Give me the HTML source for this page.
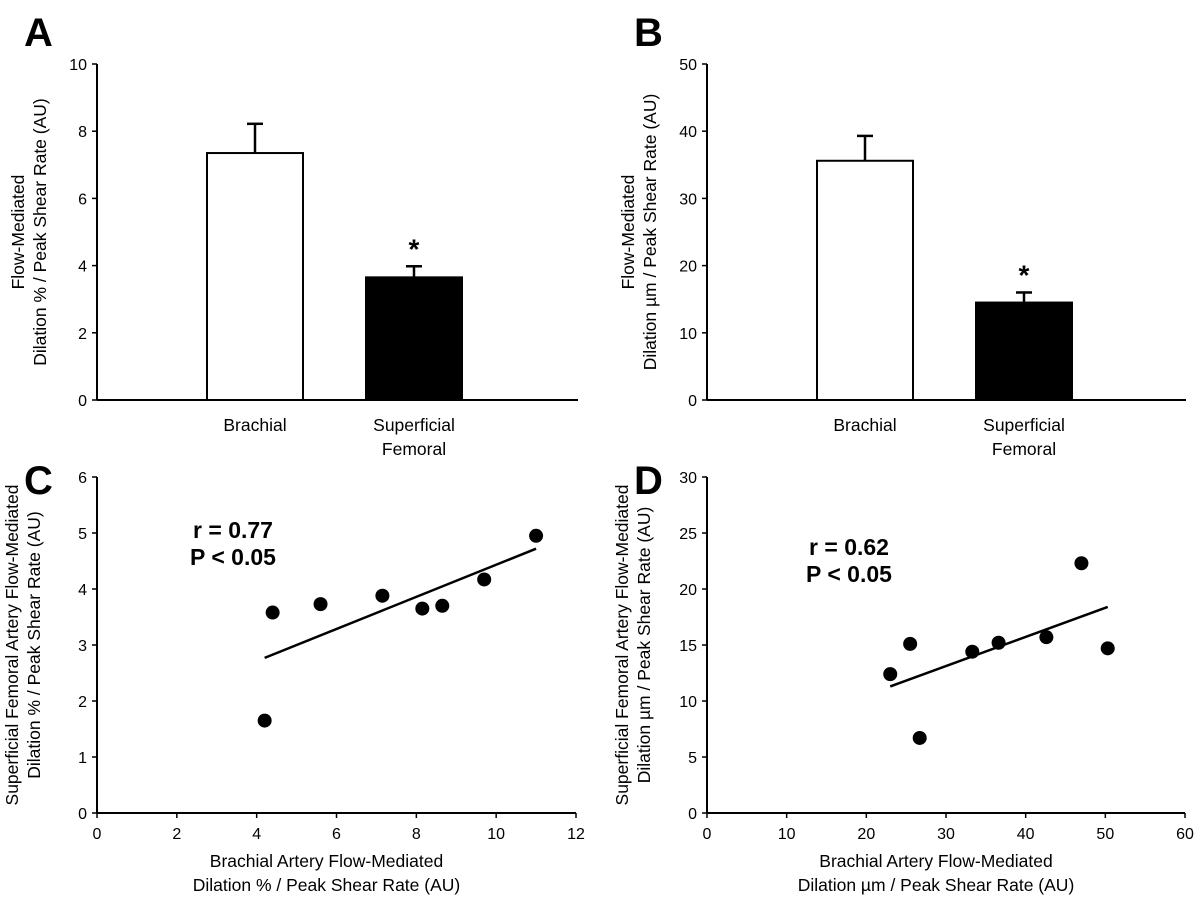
<!DOCTYPE html>
<html><head><meta charset="utf-8"><style>
html,body{margin:0;padding:0;background:#fff}
svg{display:block;font-family:"Liberation Sans",Arial,sans-serif}
</style></head><body>
<svg id="fig" width="1200" height="915" viewBox="0 0 1200 915" xmlns="http://www.w3.org/2000/svg"></svg>
<script>
// Panel A data
const barCatsA = ["Brachial", "Superficial|Femoral"];
const barValsA = [7.35, 3.65];
const barErrA = [0.87, 0.33];
const yTicksA = [0, 2, 4, 6, 8, 10];
// Panel B data
const barValsB = [35.6, 14.5];
const barErrB = [3.7, 1.5];
const yTicksB = [0, 10, 20, 30, 40, 50];
// Panel C data
const scatXC = [4.2, 4.4, 5.6, 7.15, 8.15, 8.65, 9.7, 11.0];
const scatYC = [1.65, 3.58, 3.73, 3.88, 3.65, 3.7, 4.17, 4.95];
const fitC = [[4.2, 2.77], [11.0, 4.72]];
const xTicksC = [0, 2, 4, 6, 8, 10, 12];
const yTicksC = [0, 1, 2, 3, 4, 5, 6];
// Panel D data
const scatXD = [23, 25.5, 26.7, 33.3, 36.6, 42.6, 47, 50.3];
const scatYD = [12.4, 15.1, 6.7, 14.4, 15.2, 15.7, 22.3, 14.7];
const fitD = [[23, 11.3], [50.3, 18.4]];
const xTicksD = [0, 10, 20, 30, 40, 50, 60];
const yTicksD = [0, 5, 10, 15, 20, 25, 30];

const NS = "http://www.w3.org/2000/svg";
const svg = document.getElementById("fig");
function mk(tag, attrs, parent, text) {
  const e = document.createElementNS(NS, tag);
  for (const k in attrs) e.setAttribute(k, attrs[k]);
  if (text !== undefined) e.textContent = text;
  (parent || svg).appendChild(e);
  return e;
}
function lin(d0, d1, r0, r1) { return v => r0 + (v - d0) * (r1 - r0) / (d1 - d0); }

function panelLetter(t, x, y) {
  const e = mk("text", {x: x, y: y, "font-size": 40, "font-weight": "bold"}, svg, t);
  
  
}
function yTitle(lines, cx, cy, name) {
  const g = mk("g", {});
  
  
  lines.forEach((l, i) => {
    mk("text", {x: 0, y: 0, "font-size": 17.5, "text-anchor": "middle",
      transform: `translate(${cx + i * 22},${cy}) rotate(-90)`}, g, l);
  });
}
function xTitle(lines, cx, y, name) {
  const g = mk("g", {});
  
  
  lines.forEach((l, i) => mk("text", {x: cx, y: y + i * 24, "font-size": 17.5, "text-anchor": "middle"}, g, l));
}
function yAxis(x, ys, ticks, name) {
  const g = mk("g", {});
  
  
  mk("line", {x1: x, y1: ys(ticks[ticks.length - 1]), x2: x, y2: ys(ticks[0]), stroke: "#000", "stroke-width": 2}, g);
  ticks.forEach(t => {
    mk("line", {x1: x - 5, y1: ys(t), x2: x, y2: ys(t), stroke: "#000", "stroke-width": 1.5}, g);
    mk("text", {x: x - 10, y: ys(t) + 6, "font-size": 16, "text-anchor": "end"}, g, t);
  });
}
function xAxis(y, xs, ticks, name) {
  const g = mk("g", {});
  
  
  mk("line", {x1: xs(ticks[0]), y1: y, x2: xs(ticks[ticks.length - 1]), y2: y, stroke: "#000", "stroke-width": 2}, g);
  ticks.forEach(t => {
    mk("line", {x1: xs(t), y1: y, x2: xs(t), y2: y + 5, stroke: "#000", "stroke-width": 1.5}, g);
    mk("text", {x: xs(t), y: y + 26, "font-size": 16, "text-anchor": "middle"}, g, t);
  });
}

function barPanel(letter, lx, axX, axEnd, barX, vals, errs, ticks, titleLines) {
  const ys = lin(ticks[0], ticks[ticks.length - 1], 400, 64);
  panelLetter(letter, lx, 46);
  yTitle(titleLines, axX - 73, 232, 'y-axis-title-' + letter.toLowerCase());
  yAxis(axX, ys, ticks, 'y-axis-' + letter.toLowerCase());
  const g = mk("g", {});
  
  
  vals.forEach((v, i) => {
    const x = barX[i], w = 96, cx = x + w / 2;
    const eb = mk("line", {x1: cx, y1: ys(v), x2: cx, y2: ys(v + errs[i]), stroke: "#000", "stroke-width": 2.5}, g);
    
    
    mk("line", {x1: cx - 8, y1: ys(v + errs[i]), x2: cx + 8, y2: ys(v + errs[i]), stroke: "#000", "stroke-width": 2.5}, g);
    const r = mk("rect", {x: x, y: ys(v), width: w, height: 400 - ys(v), fill: i === 0 ? "#fff" : "#000", stroke: "#000", "stroke-width": 2}, g);
    
    
    const lines = barCatsA[i].split("|");
    lines.forEach((l, j) => mk("text", {x: cx, y: 431 + j * 24, "font-size": 17.5, "text-anchor": "middle"}, g, l));
  });
  const star = mk("text", {x: barX[1] + 48, y: ys(vals[1] + errs[1]) - 8, "font-size": 28, "font-weight": "bold", "text-anchor": "middle"}, svg, "*");
  
  
  const xl = mk("line", {x1: axX, y1: 400, x2: axEnd, y2: 400, stroke: "#000", "stroke-width": 2});
  
  
}

barPanel("A", 24, 97, 578, [207, 366], barValsA, barErrA, yTicksA,
  ["Flow-Mediated", "Dilation % / Peak Shear Rate (AU)"]);
barPanel("B", 634, 707, 1186, [817, 976], barValsB, barErrB, yTicksB,
  ["Flow-Mediated", "Dilation µm / Peak Shear Rate (AU)"]);

function scatPanel(letter, lx, axX, axEnd, xsArr, ysArr, fit, xt, yt, rtxt, tx, ylines, xlines) {
  const xs = lin(xt[0], xt[xt.length - 1], axX, axEnd);
  const ys = lin(yt[0], yt[yt.length - 1], 813, 477);
  panelLetter(letter, lx, 494);
  yTitle(ylines, axX - 79, 645, 'y-axis-title-' + letter.toLowerCase());
  yAxis(axX, ys, yt, 'y-axis-' + letter.toLowerCase());
  xAxis(813, xs, xt, 'x-axis-' + letter.toLowerCase());
  xTitle(xlines, (axX + axEnd) / 2 - 10, 867, 'x-axis-title-' + letter.toLowerCase());
  const fl = mk("line", {x1: xs(fit[0][0]), y1: ys(fit[0][1]), x2: xs(fit[1][0]), y2: ys(fit[1][1]), stroke: "#000", "stroke-width": 2.5});
  
  
  const g = mk("g", {});
  
  
  xsArr.forEach((v, i) => {
    const c = mk("circle", {cx: xs(v), cy: ys(ysArr[i]), r: 7, fill: "#000"}, g);
    
    
  });
  const a = mk("g", {});
  
  
  mk("text", {x: tx, y: rtxt[2], "font-size": 23, "font-weight": "bold", "text-anchor": "middle"}, a, rtxt[0]);
  mk("text", {x: tx, y: rtxt[2] + 27, "font-size": 23, "font-weight": "bold", "text-anchor": "middle"}, a, rtxt[1]);
}

scatPanel("C", 24, 97, 576, scatXC, scatYC, fitC, xTicksC, yTicksC, ["r = 0.77", "P < 0.05", 538], 233,
  ["Superficial Femoral Artery Flow-Mediated", "Dilation % / Peak Shear Rate (AU)"],
  ["Brachial Artery Flow-Mediated", "Dilation % / Peak Shear Rate (AU)"]);
scatPanel("D", 634, 707, 1185, scatXD, scatYD, fitD, xTicksD, yTicksD, ["r = 0.62", "P < 0.05", 555], 849,
  ["Superficial Femoral Artery Flow-Mediated", "Dilation µm / Peak Shear Rate (AU)"],
  ["Brachial Artery Flow-Mediated", "Dilation µm / Peak Shear Rate (AU)"]);
</script>
</body></html>
